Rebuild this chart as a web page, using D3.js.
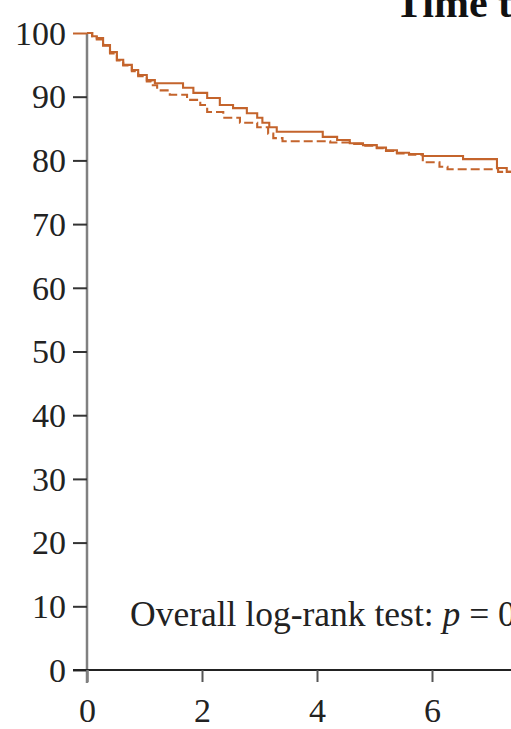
<!DOCTYPE html>
<html>
<head>
<meta charset="utf-8">
<script src="https://cdn.jsdelivr.net/npm/d3@7"></script>
<style>
  html, body { margin: 0; padding: 0; background: #fff; }
  svg { display: block; font-family: "Liberation Serif", "Times New Roman", serif; }
</style>
</head>
<body>
<svg id="chart" width="511" height="729"></svg>
<script>
// Kaplan-Meier survival estimates (%), two groups
const solidTimes  = [0, 0.09, 0.17, 0.28, 0.40, 0.52, 0.63, 0.78, 0.89, 1.04, 1.18, 1.67, 1.85, 2.09, 2.31, 2.54, 2.78, 2.96, 3.05, 3.17, 3.30, 4.10, 4.35, 4.57, 4.80, 5.04, 5.20, 5.39, 5.60, 5.84, 6.54, 7.13, 7.30, 7.60];
const solidValues = [100, 99.5, 99.2, 98.1, 97.0, 95.8, 95.0, 94.2, 93.4, 92.6, 92.1, 91.4, 90.6, 89.8, 88.7, 88.2, 87.4, 86.7, 85.9, 85.2, 84.5, 83.7, 83.2, 82.7, 82.4, 82.0, 81.6, 81.2, 81.0, 80.7, 80.2, 78.8, 78.2, 78.2];

const dashedTimes  = [0, 0.09, 0.17, 0.28, 0.40, 0.52, 0.63, 0.78, 0.89, 1.04, 1.12, 1.22, 1.44, 1.74, 1.97, 2.09, 2.37, 2.66, 2.96, 3.15, 3.24, 3.40, 4.23, 4.57, 4.80, 5.04, 5.20, 5.39, 5.60, 5.84, 6.13, 6.27, 7.15, 7.60];
const dashedValues = [100, 99.5, 99.0, 98.0, 96.8, 95.7, 94.9, 94.0, 93.2, 92.4, 91.8, 91.0, 90.3, 89.5, 88.7, 87.6, 86.7, 85.9, 85.2, 84.2, 83.5, 83.0, 82.8, 82.6, 82.3, 81.9, 81.5, 81.1, 80.9, 79.7, 79.0, 78.6, 78.2, 78.2];

const yTicks = [0, 10, 20, 30, 40, 50, 60, 70, 80, 90, 100];
const xTicks = [0, 2, 4, 6];

const titleText = "Time to event";
const noteText = "Overall log-rank test: ";
const noteP = "p";
const noteValue = " = 0.5";

const curveColor = "#c4642c";

const svg = d3.select("#chart");
const x = d3.scaleLinear().domain([0, 10]).range([87, 662]);
const y = d3.scaleLinear().domain([0, 100]).range([670, 33]);

// Title (runs past the right edge)
svg.append("text")
  .attr("x", 395).attr("y", 17)
  .attr("font-size", 42).attr("font-weight", "bold")
  .attr("fill", "#111")
  .text(titleText);

// Y axis
const yAxis = svg.append("g")
  .attr("transform", `translate(${x(0)},0)`)
  .call(d3.axisLeft(y).tickValues(yTicks).tickSize(14).tickPadding(7).tickSizeOuter(0));
yAxis.select(".domain").attr("stroke", "#808080").attr("stroke-width", 2.5)
  .attr("d", `M0,${y(100)}V${y(0) + 13}`);
yAxis.selectAll(".tick line").attr("stroke", "#333").attr("stroke-width", 2)
  .filter(d => d === 100).attr("stroke", curveColor);
yAxis.selectAll(".tick text")
  .attr("font-size", 34).attr("fill", "#222")
  .attr("font-family", "Liberation Serif, serif")
  .attr("dy", "0.33em");

// X axis
const xAxis = svg.append("g")
  .attr("transform", `translate(0,${y(0)})`)
  .call(d3.axisBottom(x).tickValues(xTicks).tickSize(12).tickPadding(16).tickSizeOuter(0));
xAxis.select(".domain").attr("stroke", "#222").attr("stroke-width", 2.2)
  .attr("d", `M73,0H${x(10)}`);
xAxis.selectAll(".tick line").attr("stroke", "#555").attr("stroke-width", 2)
  .filter(d => d === 0).attr("stroke", "#808080").attr("stroke-width", 2.5);
xAxis.selectAll(".tick text")
  .attr("font-size", 34).attr("fill", "#222")
  .attr("font-family", "Liberation Serif, serif");

// Survival step curves
const line = d3.line().curve(d3.curveStepAfter).x(d => x(d[0])).y(d => y(d[1]));
const dashed = d3.zip(dashedTimes, dashedValues);
const solid = d3.zip(solidTimes, solidValues);

svg.append("path").datum(dashed)
  .attr("d", line).attr("fill", "none")
  .attr("stroke", curveColor).attr("stroke-width", 2.1)
  .attr("stroke-dasharray", "9,4");
svg.append("path").datum(solid)
  .attr("d", line).attr("fill", "none")
  .attr("stroke", curveColor).attr("stroke-width", 2.1);

// Log-rank annotation
const note = svg.append("text")
  .attr("x", 130).attr("y", 626)
  .attr("font-size", 35.5).attr("fill", "#222");
note.append("tspan").text(noteText);
note.append("tspan").attr("font-style", "italic").text(noteP);
note.append("tspan").text(noteValue);
</script>
</body>
</html>
